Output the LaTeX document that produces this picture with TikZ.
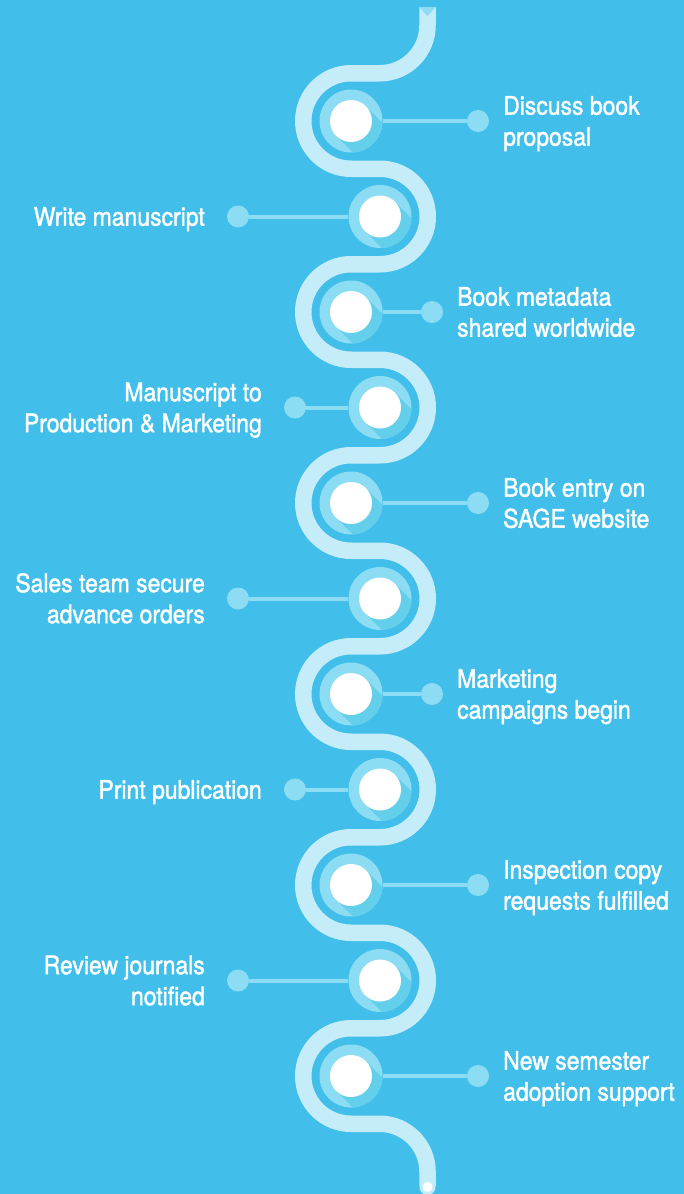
\documentclass[tikz,border=0pt]{standalone}
\usepackage{fontspec}
\setmainfont{TeX Gyre Heros}[FakeStretch=0.9,FakeBold=1.5]
\definecolor{bgc}{HTML}{41BFEA}
\definecolor{bandc}{HTML}{C4ECF9}
\definecolor{ringc}{HTML}{8CDCF3}
\definecolor{shadec}{HTML}{64CFEB}
\begin{document}
\begin{tikzpicture}[x=1pt,y=-1pt,
	band/.style={draw=bandc,line width=16.5pt},
	ring/.style={circle,minimum size=63pt,inner sep=0pt,fill=ringc,path picture={
		\fill[shadec,shift={(path picture bounding box.center)}] (14.85,-14.85) -- (74.85,45.15) -- (45.15,74.85) -- (-14.85,14.85) -- cycle;
		\fill[white,shift={(path picture bounding box.center)}] (0,0) circle (21);}},
	dot/.style={circle,minimum size=22pt,inner sep=0pt,fill=ringc},
	conn/.style={draw=ringc,line width=4pt},
	lblr/.style={text=white,align=left,anchor=base west,inner sep=0pt,xshift=25pt},
	lbll/.style={text=white,align=right,anchor=base east,inner sep=0pt,xshift=-33pt},
	twoline/.style={yshift=-24.65pt},
	oneline/.style={yshift=-9.15pt}]
	\fill[bgc] (0,0) rectangle (684,1194);
	\useasboundingbox (0,0) rectangle (684,1194);
	\fontsize{25.5}{31}\selectfont
	% winding road
	\draw[band] (427.5,7) -- (427.5,25.5) arc (0:90:47.75)
		\foreach \k in {0,...,4}{ -- (351,{73.25+191*\k}) arc (270:90:47.75) -- (380,{168.75+191*\k}) arc (-90:90:47.75) }
		-- (351,1028.25) arc (270:90:47.75) -- (379.75,1123.75) arc (-90:0:47.75) -- (427.5,1186);
	\fill[ringc] (419.25,7) -- (435.75,7) -- (427.5,16) -- cycle;
	\fill[bandc] (427.5,1187) circle (8);
	\fill[white] (427.5,1187) circle (5);
	% steps
	\node[ring] (s1) at (351,121) {};
	\node[ring] (s2) at (380,216.5) {};
	\node[ring] (s3) at (351,312) {};
	\node[ring] (s4) at (380,407.5) {};
	\node[ring] (s5) at (351,503) {};
	\node[ring] (s6) at (380,598.5) {};
	\node[ring] (s7) at (351,694) {};
	\node[ring] (s8) at (380,789.5) {};
	\node[ring] (s9) at (351,885) {};
	\node[ring] (s10) at (380,980.5) {};
	\node[ring] (s11) at (351,1076) {};
	\node[dot] (d1) at (478,121) {};
	\node[dot] (d2) at (238,216.5) {};
	\node[dot] (d3) at (432,312) {};
	\node[dot] (d4) at (295,407.5) {};
	\node[dot] (d5) at (478,503) {};
	\node[dot] (d6) at (238,598.5) {};
	\node[dot] (d7) at (432,694) {};
	\node[dot] (d8) at (295,789.5) {};
	\node[dot] (d9) at (478,885) {};
	\node[dot] (d10) at (238,980.5) {};
	\node[dot] (d11) at (478,1076) {};
	\foreach \i in {1,...,11} \draw[conn] (s\i) -- (d\i);
	% labels
	\node[lblr,twoline] (t1) at (d1.center) {Discuss book\\proposal};
	\node[lbll,oneline] (t2) at (d2.center) {Write manuscript};
	\node[lblr,twoline] (t3) at (d3.center) {Book metadata\\shared worldwide};
	\node[lbll,twoline] (t4) at (d4.center) {Manuscript to\\Production \& Marketing};
	\node[lblr,twoline] (t5) at (d5.center) {Book entry on\\SAGE website};
	\node[lbll,twoline] (t6) at (d6.center) {Sales team secure\\advance orders};
	\node[lblr,twoline] (t7) at (d7.center) {Marketing\\campaigns begin};
	\node[lbll,oneline] (t8) at (d8.center) {Print publication};
	\node[lblr,twoline] (t9) at (d9.center) {Inspection copy\\requests fulfilled};
	\node[lbll,twoline] (t10) at (d10.center) {Review journals\\notified};
	\node[lblr,twoline] (t11) at (d11.center) {New semester\\adoption support};
\end{tikzpicture}
\end{document}
